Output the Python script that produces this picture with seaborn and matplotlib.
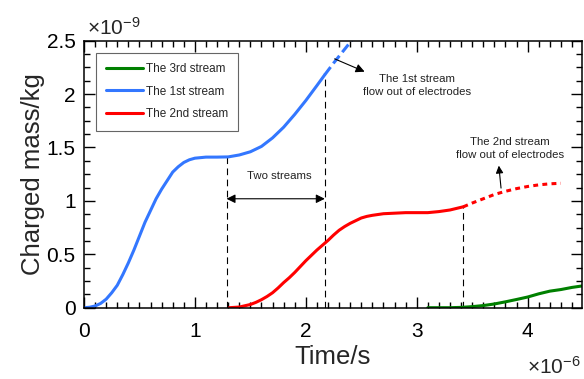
import numpy as np
import pandas as pd
import matplotlib
matplotlib.use("Agg")
import matplotlib.pyplot as plt
from matplotlib.ticker import MultipleLocator, FormatStrFormatter
from matplotlib.lines import Line2D
import seaborn as sns

# ---- data (time in units of 1e-6 s, charge in units of 1e-9 kg) ----
t_first = [0.0, 0.05, 0.1, 0.15, 0.2, 0.25, 0.3, 0.35, 0.4, 0.45, 0.5, 0.55, 0.6,
           0.65, 0.7, 0.75, 0.8, 0.85, 0.9, 0.95, 1.0, 1.1, 1.2, 1.3, 1.4, 1.5,
           1.6, 1.7, 1.8, 1.9, 2.0, 2.1, 2.17]
m_first = [0.0, 0.004, 0.016, 0.04, 0.08, 0.14, 0.21, 0.31, 0.42, 0.54, 0.67, 0.80,
           0.91, 1.02, 1.11, 1.19, 1.27, 1.32, 1.36, 1.385, 1.40, 1.41, 1.41, 1.412,
           1.43, 1.46, 1.51, 1.59, 1.69, 1.81, 1.94, 2.08, 2.18]
t_first_out = [2.17, 2.25, 2.35, 2.45]
m_first_out = [2.18, 2.29, 2.42, 2.55]

t_second = [1.31, 1.4, 1.5, 1.55, 1.6, 1.65, 1.7, 1.75, 1.8, 1.85, 1.9, 1.95, 2.0,
            2.05, 2.1, 2.15, 2.2, 2.25, 2.3, 2.35, 2.4, 2.45, 2.5, 2.55, 2.6, 2.7,
            2.8, 2.9, 3.0, 3.1, 3.2, 3.3, 3.42]
m_second = [0.0, 0.006, 0.03, 0.05, 0.075, 0.105, 0.14, 0.185, 0.235, 0.28, 0.33,
            0.385, 0.44, 0.49, 0.54, 0.585, 0.63, 0.68, 0.725, 0.76, 0.79, 0.815,
            0.84, 0.855, 0.865, 0.88, 0.885, 0.89, 0.89, 0.89, 0.90, 0.915, 0.945]
t_second_out = [3.42, 3.5, 3.6, 3.7, 3.8, 3.9, 4.0, 4.1, 4.2, 4.3]
m_second_out = [0.945, 0.98, 1.02, 1.06, 1.09, 1.115, 1.135, 1.15, 1.16, 1.165]

t_third = [3.10, 3.3, 3.4, 3.5, 3.6, 3.7, 3.8, 3.9, 4.0, 4.1, 4.2, 4.3, 4.4, 4.5]
m_third = [0.0, 0.0, 0.003, 0.01, 0.02, 0.035, 0.055, 0.077, 0.10, 0.13, 0.155,
           0.17, 0.19, 0.205]

boundary_t = [1.285, 2.171, 3.417]
boundary_top = [1.412, 2.18, 0.945]

legend_labels = ["The 3rd stream", "The 1st stream", "The 2nd stream"]
x_ticks = [0, 1, 2, 3, 4]
y_ticks = [0, 0.5, 1, 1.5, 2, 2.5]

c_blue = "#3377ff"
c_red = "#ff0000"
c_green = "#008000"

sns.set_style("ticks")
plt.rcParams["font.family"] = ["Liberation Sans", "DejaVu Sans"]
plt.rcParams["mathtext.fontset"] = "custom"
plt.rcParams["mathtext.rm"] = "Liberation Sans"
plt.rcParams["mathtext.it"] = "Liberation Sans:italic"
plt.rcParams["mathtext.bf"] = "Liberation Sans:bold"

fig = plt.figure(figsize=(5.84, 3.79), dpi=100)
ax = fig.add_axes([84 / 584, 1 - 307.7 / 379, (582 - 84) / 584, (307.7 - 40.7) / 379])

lw = 2.2
sns.lineplot(x=t_third, y=m_third, ax=ax, color=c_green, linewidth=lw, sort=False)
sns.lineplot(x=t_first, y=m_first, ax=ax, color=c_blue, linewidth=lw, sort=False)
sns.lineplot(x=t_first_out, y=m_first_out, ax=ax, color=c_blue, linewidth=lw,
             linestyle=(0, (3.2, 1.5)), sort=False)
sns.lineplot(x=t_second, y=m_second, ax=ax, color=c_red, linewidth=lw, sort=False)
sns.lineplot(x=t_second_out, y=m_second_out, ax=ax, color=c_red, linewidth=lw,
             linestyle=(0, (1.6, 1.4)), sort=False)

ax.vlines(boundary_t, 0, boundary_top, colors="black", linewidth=0.8,
          linestyles=(0, (6, 4)), zorder=1)

ax.set_xlim(0, 4.49)
ax.set_ylim(0, 2.5)
ax.set_xticks(x_ticks)
ax.set_yticks(y_ticks)
ax.xaxis.set_minor_locator(MultipleLocator(0.1))
ax.yaxis.set_minor_locator(MultipleLocator(0.125))
ax.xaxis.set_major_formatter(FormatStrFormatter("%g"))
ax.yaxis.set_major_formatter(FormatStrFormatter("%g"))
ax.tick_params(which="both", direction="in", top=True, right=True, colors="black",
               width=1.0)
ax.tick_params(which="major", length=8, labelsize=15)
ax.tick_params(which="minor", length=4.3)
ax.tick_params(axis="x", which="major", pad=10)
ax.tick_params(axis="y", which="major", pad=6)
for s in ax.spines.values():
    s.set_linewidth(1.1)
    s.set_color("black")
    s.set_visible(True)

ax.set_xlabel("Time/s", fontsize=18.5, labelpad=3)
ax.set_ylabel("Charged mass/kg", fontsize=18.5, labelpad=1)

fig.text(87 / 584, 1 - 34.3 / 379, r"$\times10^{-9}$", fontsize=15,
         ha="left", va="baseline")
fig.text(581 / 584, 0.004, r"$\times10^{-6}$", fontsize=15,
         ha="right", va="bottom")

handles = [Line2D([], [], color=c_green, lw=lw),
           Line2D([], [], color=c_blue, lw=lw),
           Line2D([], [], color=c_red, lw=lw)]
leg = ax.legend(handles, legend_labels, loc="upper left",
                bbox_to_anchor=(0.024, 0.955), borderaxespad=0, fontsize=8.5,
                handlelength=3.1, handletextpad=0.3, labelspacing=0.92,
                borderpad=0.85, fancybox=False, framealpha=1)
leg.get_frame().set_edgecolor("#666666")
leg.get_frame().set_linewidth(0.8)

txt_fs = 8.2
ax.annotate("", xy=(2.53, 2.21), xytext=(2.26, 2.33),
            arrowprops=dict(arrowstyle="-|>", color="black", lw=0.8,
                            mutation_scale=13, shrinkA=0, shrinkB=0))
ax.text(3.0, 2.08, "The 1st stream\nflow out of electrodes", fontsize=txt_fs,
        ha="center", va="center", linespacing=1.45, color="#222222")

ax.annotate("", xy=(1.285, 1.02), xytext=(2.171, 1.02),
            arrowprops=dict(arrowstyle="<|-|>", color="black", lw=0.8,
                            mutation_scale=13, shrinkA=0, shrinkB=0))
ax.text(1.757, 1.23, "Two streams", fontsize=txt_fs, ha="center", va="center",
        color="#222222")

ax.annotate("", xy=(3.74, 1.33), xytext=(3.76, 1.12),
            arrowprops=dict(arrowstyle="-|>", color="black", lw=0.8,
                            mutation_scale=11, shrinkA=0, shrinkB=0))
ax.text(3.84, 1.49, "The 2nd stream\nflow out of electrodes", fontsize=txt_fs,
        ha="center", va="center", linespacing=1.45, color="#222222")

fig.savefig("out.png", dpi=100, facecolor="white")
